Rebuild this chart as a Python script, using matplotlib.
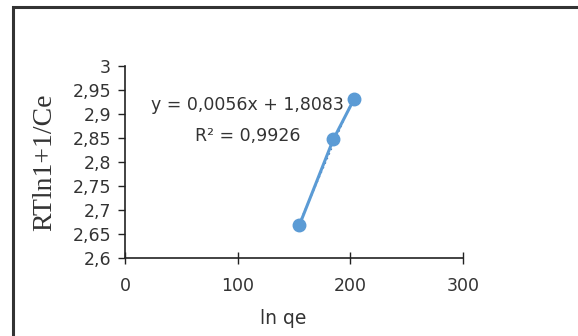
import numpy as np
import matplotlib.pyplot as plt
from matplotlib.patches import Rectangle
from matplotlib.ticker import FuncFormatter

# data
ln_qe = [154.7, 184.9, 203.3]
rt_ln = [2.668, 2.847, 2.931]
x_ticks = [0, 100, 200, 300]
y_ticks = [2.6, 2.65, 2.7, 2.75, 2.8, 2.85, 2.9, 2.95, 3.0]
eq_line = "y = 0,0056x + 1,8083"
r2_line = "R² = 0,9926"

blue = "#5B9BD5"
txt = "#333333"
fnt = "DejaVu Sans"

fig = plt.figure(figsize=(5.78, 3.36), dpi=100)
# outer chart border (right / bottom edges are cut off in the original)
fig.patches.append(Rectangle((13 / 578, -0.1), 1.2, 1.1 - 6.5 / 336,
                             transform=fig.transFigure, fill=False,
                             edgecolor="#333333", linewidth=2.2))

ax = fig.add_axes([125 / 578, 1 - 258 / 336, 338 / 578, 192 / 336])

# linear trendline (dotted) under the data line
k, b = np.polyfit(ln_qe, rt_ln, 1)
xs = np.array([min(ln_qe), max(ln_qe)])
ax.plot(xs, k * xs + b, linestyle=(0, (1, 2)), color="#4a7fb5", linewidth=1.2, zorder=2)
ax.plot(ln_qe, rt_ln, color=blue, linewidth=2.2, marker="o", markersize=9, zorder=3)

ax.set_xlim(0, 300)
ax.set_ylim(2.6, 3.0)
ax.set_xticks(x_ticks)
ax.set_yticks(y_ticks)

comma = FuncFormatter(lambda v, p: ("%g" % v).replace(".", ","))
ax.xaxis.set_major_formatter(comma)
ax.yaxis.set_major_formatter(comma)

for s in ["top", "right"]:
    ax.spines[s].set_visible(False)
for s in ["left", "bottom"]:
    ax.spines[s].set_color("#222222")
    ax.spines[s].set_linewidth(1.2)

ax.tick_params(axis="y", direction="out", length=5, width=1, color="#222222", pad=5)
ax.tick_params(axis="x", direction="inout", length=8, width=1, color="#222222", pad=10)
for lab in ax.get_xticklabels() + ax.get_yticklabels():
    lab.set_fontfamily(fnt)
    lab.set_fontsize(12.5)
    lab.set_color(txt)

ax.set_xlabel("ln qe", fontfamily=fnt, fontsize=13.5, color=txt)
ax.xaxis.set_label_coords(0.467, -0.265)
ax.set_ylabel("RTln1+1/Ce", fontfamily="Liberation Serif", fontsize=20,
              color=txt, labelpad=11)

ax.text(109, 2.918, eq_line, ha="center", va="center", fontfamily=fnt,
        fontsize=12.5, color=txt)
ax.text(109, 2.855, r2_line, ha="center", va="center", fontfamily=fnt,
        fontsize=12.5, color=txt)

fig.savefig("out.png", dpi=100)
